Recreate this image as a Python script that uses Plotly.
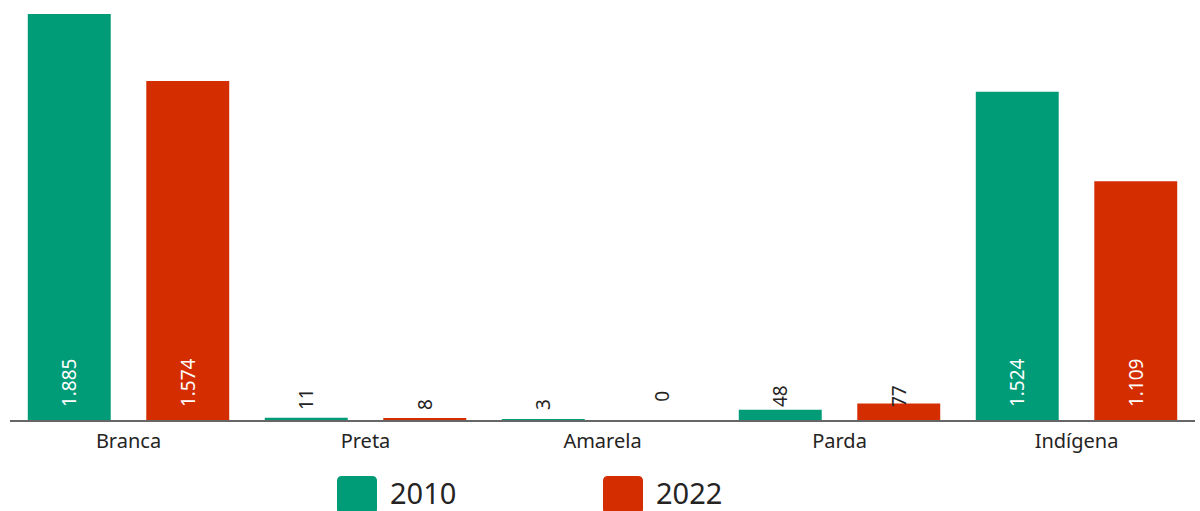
import plotly.graph_objects as go

categories = ["Branca", "Preta", "Amarela", "Parda", "Indígena"]
values_2010 = [1885, 11, 3, 48, 1524]
values_2022 = [1574, 8, 0, 77, 1109]
series_names = ["2010", "2022"]
colors = ["#009B77", "#D42D00"]

W, H = 1200, 511
ML, MR, MT, MB = 10, 5, 14, 91
PW, PH = W - ML - MR, H - MT - MB

def px_x(px):
    return (px - ML) / PW

def px_y(py):
    return (H - MB - py) / PH

fig = go.Figure()
for name, vals, col in zip(series_names, [values_2010, values_2022], colors):
    fig.add_trace(go.Bar(
        x=categories, y=vals, name=name,
        marker=dict(color=col, line=dict(width=0)),
        texttemplate="\u00a0\u00a0%{y:,}",
        textposition="inside",
        insidetextanchor="start",
        textangle=-90,
        textfont=dict(color=["white" if v > 300 else "#252423" for v in vals],
                      size=19, family="Noto Sans"),
        constraintext="none",
        cliponaxis=False,
        showlegend=False,
    ))

# zero-height bars get no bar text in plotly: add it as annotations
slot_px = PW / len(categories) / 2
for i, vals in enumerate([values_2010, values_2022]):
    for c, v in zip(categories, vals):
        if v == 0:
            fig.add_annotation(x=c, y=0, xref="x", yref="y", text=f"{v}",
                               showarrow=False, textangle=-90,
                               xshift=(i - 0.5) * slot_px, yshift=24,
                               font=dict(size=19, color="#252423", family="Noto Sans"))

# legend drawn as rounded squares + text
leg_x = [337, 603]
r = 5
for name, col, lx in zip(series_names, colors, leg_x):
    x0, x1 = px_x(lx), px_x(lx + 40)
    y0, y1 = px_y(514), px_y(476)
    rx, ry = r / PW, r / PH
    path = (f"M{x0+rx},{y1} L{x1-rx},{y1} Q{x1},{y1} {x1},{y1-ry} "
            f"L{x1},{y0+ry} Q{x1},{y0} {x1-rx},{y0} L{x0+rx},{y0} "
            f"Q{x0},{y0} {x0},{y0+ry} L{x0},{y1-ry} Q{x0},{y1} {x0+rx},{y1} Z")
    fig.add_shape(type="path", path=path, xref="paper", yref="paper",
                  fillcolor=col, line=dict(width=0))
    fig.add_annotation(x=px_x(lx + 51), y=px_y(492), xref="paper", yref="paper",
                       text=name, showarrow=False, xanchor="left", yanchor="middle",
                       font=dict(size=29, color="#252423", family="Noto Sans"))

fig.update_layout(
    width=W, height=H,
    margin=dict(l=ML, r=MR, t=MT, b=MB),
    barmode="group", bargap=0.0, bargroupgap=0.30,
    separators=",.",
    plot_bgcolor="white", paper_bgcolor="white",
    font=dict(family="Noto Sans", color="#252423"),
    xaxis=dict(showline=True, linecolor="#666666", linewidth=2, ticks="",
               ticklabelstandoff=2,
               tickfont=dict(size=20, color="#252423")),
    yaxis=dict(range=[0, 1885], visible=False, showgrid=False),
    showlegend=False,
)

fig.write_html("out.html")
